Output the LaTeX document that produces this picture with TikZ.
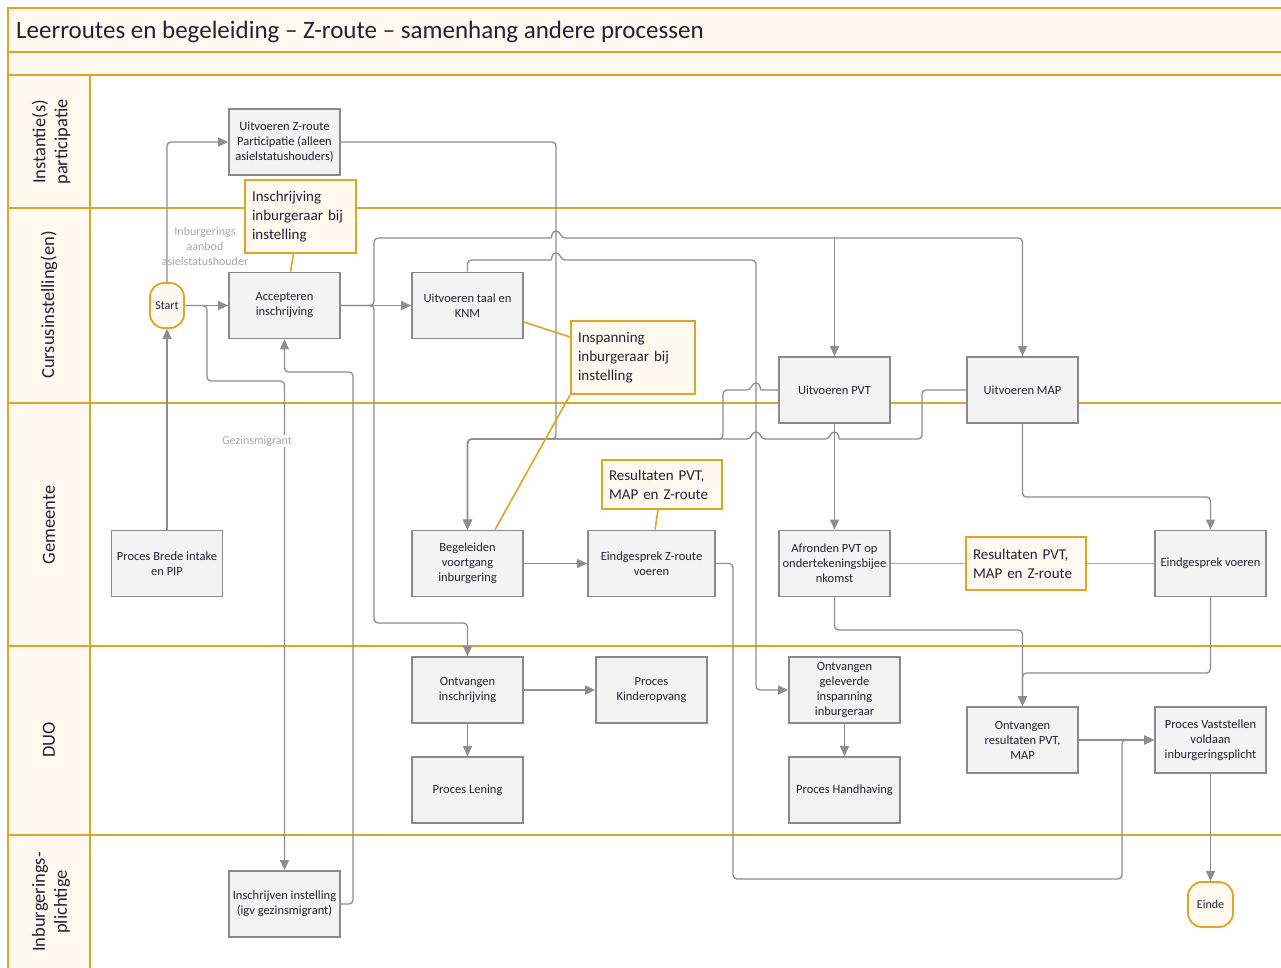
\documentclass[tikz,border=0pt]{standalone}
\usepackage{fontspec}
\setmainfont{Carlito}
\usetikzlibrary{arrows.meta}
\definecolor{org}{HTML}{DFA623}
\definecolor{crm}{HTML}{FFF9F0}
\definecolor{bfill}{HTML}{F3F3F3}
\definecolor{bdraw}{HTML}{8A8A8A}
\definecolor{cline}{HTML}{8E8E8E}
\definecolor{lbl}{HTML}{A8A8A8}
\definecolor{txt}{HTML}{222233}
\begin{document}
\begin{tikzpicture}[x=1pt,y=-1pt,
 box/.style={draw=bdraw, fill=bfill, line width=1.8pt, minimum width=111pt, minimum height=66pt, inner sep=2pt, align=center, font=\fontsize{12.5}{15}\selectfont, text=txt},
 ann/.style={draw=org, fill=crm, line width=1.8pt, align=left, font=\fontsize{15}{19}\selectfont, inner sep=0pt, text=txt},
 term/.style={draw=org, fill=crm, line width=1.8pt, rounded corners=14pt, minimum height=45pt, font=\fontsize{12}{14}\selectfont, inner sep=1pt, text=txt},
 conn/.style={draw=cline, line width=1.3pt, rounded corners=4pt, -{Triangle[length=10pt,width=9pt]}},
 aline/.style={draw=org, line width=1.6pt},
 lane/.style={draw=org, line width=2pt},
 lanelbl/.style={rotate=90, font=\fontsize{18.5}{22}\selectfont, align=center, text=txt},
 glabel/.style={text=lbl, font=\fontsize{12}{15}\selectfont, align=center, inner sep=1pt}
]
\useasboundingbox (0,0) rectangle (1281,967);
\clip (0,0) rectangle (1281,967);
% pool and lanes
\fill[white] (0,0) rectangle (1281,967);
\fill[crm] (8,8) rectangle (1290,75);
\fill[crm] (8,75) rectangle (90,980);
\draw[lane] (1290,8) -- (8,8) -- (8,980);
\draw[lane] (8,52) -- (1290,52);
\draw[lane] (8,75) -- (1290,75);
\draw[lane] (90,75) -- (90,980);
\foreach \yy in {208,403,646,835} { \draw[lane] (8,\yy) -- (1290,\yy); }
\node[anchor=west, inner sep=0pt, font=\fontsize{25}{28}\selectfont, text=txt] (title) at (16,32) {Leerroutes en begeleiding -- Z-route -- samenhang andere processen};
\node[lanelbl] (l1) at (51,142) {Instantie(s)\\participatie};
\node[lanelbl] (l2) at (49,305) {Cursusinstelling(en)};
\node[lanelbl] (l3) at (49,525) {Gemeente};
\node[lanelbl] (l4) at (49,740) {DUO};
\node[lanelbl] (l5) at (51,902) {Inburgerings-\\plichtige};
% nodes
\node[box] (uzp) at (284.5,142) {Uitvoeren Z-route\\Participatie (alleen\\asielstatushouders)};
\node[ann, minimum width=111pt, minimum height=73pt, text width=97pt] (ann1) at (300.5,216.5) {Inschrijving\\inburgeraar~bij\\instelling};
\node[term, minimum width=34pt] (start) at (167,305.5) {Start};
\node[box] (acc) at (284.5,305.5) {Accepteren\\inschrijving};
\node[box] (utk) at (467.5,305.5) {Uitvoeren taal en\\KNM};
\node[ann, minimum width=124pt, minimum height=73pt, text width=110pt] (ann2) at (633,357.5) {Inspanning\\inburgeraar~bij\\instelling};
\node[box] (pvt) at (834.5,390) {Uitvoeren PVT};
\node[box] (map) at (1022.5,390) {Uitvoeren MAP};
\node[box] (pbi) at (167,563.5) {Proces Brede intake\\en PIP};
\node[box] (bvi) at (467.5,563.5) {Begeleiden\\voortgang\\inburgering};
\node[ann, minimum width=120pt, minimum height=49pt, text width=106pt] (ann3) at (662,484.5) {Resultaten PVT,\\MAP en Z-route};
\node[box, minimum width=127pt] (ezr) at (651.5,563.5) {Eindgesprek Z-route\\voeren};
\node[box] (afr) at (834.5,563.5) {Afronden PVT op\\ondertekeningsbijee\\nkomst};
\node[ann, minimum width=120pt, minimum height=53pt, text width=106pt] (ann4) at (1026,563.5) {Resultaten PVT,\\MAP en Z-route};
\node[box] (egv) at (1210.5,563.5) {Eindgesprek voeren};
\node[box] (oin) at (467.5,690) {Ontvangen\\inschrijving};
\node[box] (pko) at (651.5,690) {Proces\\Kinderopvang};
\node[box] (ogi) at (844.5,690) {Ontvangen\\geleverde\\inspanning\\inburgeraar};
\node[box] (ple) at (467.5,790) {Proces Lening};
\node[box] (pha) at (844.5,790) {Proces Handhaving};
\node[box] (orp) at (1022.5,740) {Ontvangen\\resultaten PVT,\\MAP};
\node[box] (pvs) at (1210.5,740) {Proces Vaststellen\\voldaan\\inburgeringsplicht};
\node[term, minimum width=45pt] (einde) at (1210.5,904.5) {Einde};
\node[box] (iin) at (284.5,904) {Inschrijven instelling\\(igv gezinsmigrant)};
% connectors
\draw[conn] (pbi.north) -- (start.south);
\draw[conn] (start.north) |- (uzp.west);
\draw[conn] (start.east) -- (acc.west);
\draw[conn] (start.east) -- (207,305.5) -- (207,381) -| (iin.north);
\draw[conn] (iin.east) -| (353,372) -| (acc.south);
\draw[conn] (acc.east) -- (utk.west);
\draw[conn] (acc.east) -- (374,305.5) -- (374,238) -- (547,238) [sharp corners] .. controls (552,238) and (551,231) .. (556,231) .. controls (561,231) and (560,238) .. (565,238) [rounded corners=4pt] -- (1022.5,238) -- (map.north);
\draw[conn] (834.5,238) -- (pvt.north);
\draw[conn] (acc.east) -- (374,305.5) -- (374,623) -| (oin.north);
\draw[conn] (utk.north) -- (467.5,260) -- (547,260) [sharp corners] .. controls (552,260) and (551,253) .. (556,253) .. controls (561,253) and (560,260) .. (565,260) [rounded corners=4pt] -- (756,260) |- (ogi.west);
\draw[conn] (uzp.east) -- (556,142) -- (556,439) -| (bvi.north);
\draw[conn] (pvt.west) -- (765,390) [sharp corners] .. controls (760,390) and (761,383) .. (756,383) .. controls (751,383) and (752,390) .. (747,390) [rounded corners=4pt] -- (723,390) -- (723,439) -| (bvi.north);
\draw[conn] (map.west) -- (922,390) -- (922,439) -- (843.5,439) [sharp corners] .. controls (838.5,439) and (839.5,432) .. (834.5,432) .. controls (829.5,432) and (830.5,439) .. (825.5,439) -- (765,439) .. controls (760,439) and (761,432) .. (756,432) .. controls (751,432) and (752,439) .. (747,439) [rounded corners=4pt] -| (bvi.north);
\draw[conn] (pvt.south) -- (afr.north);
\draw[conn] (map.south) -- (1022.5,497) -| (egv.north);
\draw[conn] (afr.south) -- (834.5,630) -| (orp.north);
\draw[conn] (egv.south) -- (1210.5,673) -| (orp.north);
\draw[conn] (ezr.east) -- (733,563.5) -- (733,879) -| (1122,740) -- (pvs.west);
\draw[conn] (orp.east) -- (pvs.west);
\draw[conn] (pvs.south) -- (einde.north);
\draw[conn] (bvi.east) -- (ezr.west);
\draw[conn] (oin.east) -- (pko.west);
\draw[conn] (oin.south) -- (ple.north);
\draw[conn] (ogi.south) -- (pha.north);
% annotation links
\draw[aline] ([xshift=-7pt]ann1.south) -- ([xshift=6pt]acc.north);
\draw[aline] ([yshift=-16.5pt]utk.east) -- ([yshift=20.5pt]ann2.west);
\draw[aline] (ann2.south west) -- ([xshift=27.5pt]bvi.north);
\draw[aline] ([xshift=-4pt]ann3.south) -- ([xshift=3.5pt]ezr.north);
\draw[aline] (afr.east) -- (ann4.west);
\draw[aline] (ann4.east) -- (egv.west);
% connector labels
\node[glabel] (lb1) at (205,246) {Inburgerings\\aanbod\\asielstatushouder};
\node[glabel, fill=white] (lb2) at (257,441) {Gezinsmigrant};
\end{tikzpicture}
\end{document}
